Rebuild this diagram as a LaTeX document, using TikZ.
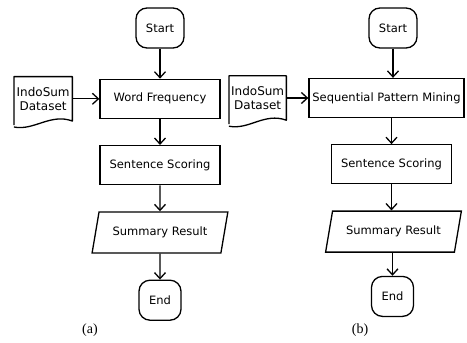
\documentclass[tikz,border=0pt]{standalone}
\usepackage{fontspec}
\setmainfont{DejaVu Sans}
\newfontfamily\capfont{Liberation Serif}
\usetikzlibrary{positioning, arrows.meta, shapes.geometric}

\begin{document}
\begin{tikzpicture}[
            x=1pt, y=1pt,
            node distance=26pt and 27pt,
            font=\fontsize{11.5}{13}\selectfont,
            >={Straight Barb[length=6pt, width=11pt]},
            terminal/.style={rectangle, draw, line width=1.3pt, rounded corners=11pt, minimum width=48pt, minimum height=40pt},
            process/.style={rectangle, draw, line width=1.3pt, minimum width=120pt, minimum height=39pt},
            io/.style={trapezium, draw, line width=1.3pt, trapezium left angle=72, trapezium right angle=108, trapezium stretches=true, minimum width=136pt, minimum height=41pt},
            doc/.style={rectangle, minimum width=58pt, minimum height=44pt, inner sep=1pt, align=center, font=\fontsize{12}{14}\selectfont},
            docline/.style={line width=1.3pt, line join=round},
            arrow/.style={->, line width=1.3pt},
            caption/.style={font=\capfont\fontsize{14}{16}\selectfont}
        ]
        \useasboundingbox (0,0) rectangle (467,-343);

        % (a) word frequency flow
        \node[terminal] (startA) at (160,-28) {Start};
        \node[process, below=30pt of startA] (wordfreq) {Word Frequency};
        \node[doc, left=of wordfreq] (dataA) {IndoSum\\Dataset};
        \node[process, below=of wordfreq] (scoreA) {Sentence Scoring};
        \node[io, below=of scoreA] (resultA) {Summary Result};
        \node[terminal, minimum width=42pt, below=of resultA] (endA) {End};
        \node[caption] (capA) at (90,-330) {(a)};

        % document outline of the dataset
        \draw[docline] ([shift={(0,-4)}]dataA.south west) -- (dataA.north west) -- (dataA.north east) -- (dataA.south east)
            .. controls ([shift={(-22,8)}]dataA.south east) and ([shift={(20,-10)}]dataA.south west) .. ([shift={(0,-6)}]dataA.south west);

        \draw[arrow] (startA) -- (wordfreq);
        \draw[arrow] (dataA) -- (wordfreq);
        \draw[arrow] (wordfreq) -- (scoreA);
        \draw[arrow] (scoreA) -- (resultA);
        \draw[arrow] (resultA) -- (endA);

        % (b) sequential pattern mining flow
        \node[terminal] (startB) at (393,-28) {Start};
        \node[process, minimum width=155pt] (seqmining) at (386.5,-98) {Sequential Pattern Mining};
        \node[doc, minimum width=57pt, left=22pt of seqmining] (dataB) {IndoSum\\Dataset};
        \node[process, below=of seqmining, xshift=5pt] (scoreB) {Sentence Scoring};
        \node[io, below=of scoreB, xshift=2pt] (resultB) {Summary Result};
        \node[terminal, minimum width=42pt, below=23pt of resultB, xshift=-1pt] (endB) {End};
        \node[caption] (capB) at (360,-330) {(b)};

        \draw[docline] ([shift={(0,-4)}]dataB.south west) -- (dataB.north west) -- (dataB.north east) -- (dataB.south east)
            .. controls ([shift={(-22,8)}]dataB.south east) and ([shift={(20,-10)}]dataB.south west) .. ([shift={(0,-6)}]dataB.south west);

        \draw[arrow] (startB) -- (startB |- seqmining.north);
        \draw[arrow] (dataB) -- (seqmining);
        \draw[arrow] (scoreB |- seqmining.south) -- (scoreB);
        \draw[arrow] (scoreB) -- (resultB.north -| scoreB);
        \draw[arrow] (resultB.south -| endB) -- (endB);
    \end{tikzpicture}
\end{document}
